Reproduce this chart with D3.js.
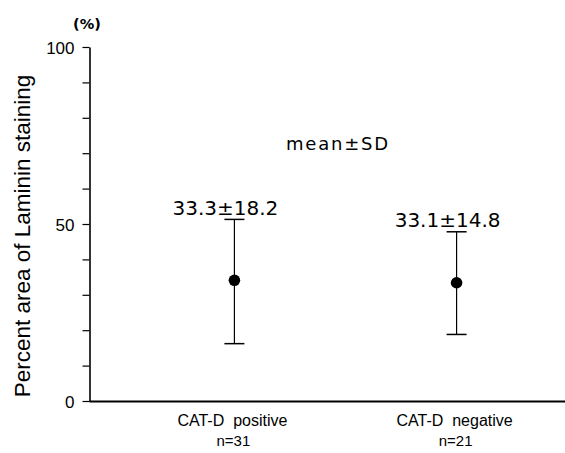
<!DOCTYPE html>
<html lang="en">
<head>
<meta charset="utf-8">
<title>Laminin staining</title>
<script src="https://d3js.org/d3.v7.min.js"></script>
<style>
body { margin: 0; background: #fff; }
svg text { fill: #000; }
.sans { font-family: "Liberation Sans", Arial, sans-serif; }
.dv { font-family: "DejaVu Sans", sans-serif; }
</style>
</head>
<body>
<div id="chart"></div>
<script>
// values
var categories = ["CAT-D  positive", "CAT-D  negative"];
var nLabels = ["n=31", "n=21"];
var means = [34.1, 33.4];
var upper = [51.3, 47.8];
var lower = [16.2, 18.8];
var valueLabels = ["33.3\u00b118.2", "33.1\u00b114.8"];
var yTicks = [0, 10, 20, 30, 40, 50, 60, 70, 80, 90, 100];
var yTickLabels = [0, 50, 100];

var width = 565, height = 453;

var svg = d3.select("#chart")
  .append("svg")
  .attr("width", width)
  .attr("height", height);

var y = d3.scaleLinear()
  .domain([0, 100])
  .range([401, 47]);

var x = d3.scalePoint()
  .domain(categories)
  .range([90, 601])
  .padding(0.65);

// y axis
var yAxis = svg.append("g")
  .attr("transform", "translate(89.5,0)")
  .call(d3.axisLeft(y)
    .tickValues(yTicks)
    .tickSize(7)
    .tickSizeOuter(0)
    .tickPadding(8)
    .tickFormat(function(d) { return yTickLabels.indexOf(d) >= 0 ? d : ""; }));
yAxis.select(".domain").attr("stroke-width", 1.6);
yAxis.selectAll(".tick line").attr("stroke-width", 1.2);
yAxis.selectAll(".tick text")
  .attr("class", "sans")
  .style("font-size", "17px")
  .attr("dy", "0.36em");

// x axis (just the baseline)
var xAxis = svg.append("g")
  .attr("transform", "translate(0," + y(0) + ")")
  .call(d3.axisBottom(d3.scaleLinear().range([89, 565]))
    .tickValues([])
    .tickSizeOuter(0));
xAxis.select(".domain").attr("stroke-width", 1.8);

// (%)
svg.append("text")
  .attr("class", "dv")
  .attr("x", 87)
  .attr("y", 29)
  .attr("text-anchor", "middle")
  .style("font-size", "14.5px")
  .style("font-weight", "bold")
  .text("(%)");

// y title
svg.append("text")
  .attr("class", "sans")
  .attr("transform", "translate(30," + 236 + ") rotate(-90)")
  .attr("text-anchor", "middle")
  .style("font-size", "22.5px")
  .text("Percent area of Laminin staining");

// mean±SD note
svg.append("text")
  .attr("class", "dv")
  .attr("x", 338)
  .attr("y", 150)
  .attr("text-anchor", "middle")
  .style("font-size", "18px")
  .style("letter-spacing", "1.8px")
  .text("mean\u00b1SD");

var groups = svg.selectAll(".grp")
  .data(categories)
  .enter()
  .append("g")
  .attr("class", "grp");

// error bars
groups.append("line")
  .attr("x1", function(d) { return x(d); })
  .attr("x2", function(d) { return x(d); })
  .attr("y1", function(d, i) { return y(upper[i]); })
  .attr("y2", function(d, i) { return y(lower[i]); })
  .attr("stroke", "#000")
  .attr("stroke-width", 1.2);

groups.append("line")
  .attr("x1", function(d) { return x(d) - 10; })
  .attr("x2", function(d) { return x(d) + 10; })
  .attr("y1", function(d, i) { return y(upper[i]); })
  .attr("y2", function(d, i) { return y(upper[i]); })
  .attr("stroke", "#000")
  .attr("stroke-width", 1.5);

groups.append("line")
  .attr("x1", function(d) { return x(d) - 10; })
  .attr("x2", function(d) { return x(d) + 10; })
  .attr("y1", function(d, i) { return y(lower[i]); })
  .attr("y2", function(d, i) { return y(lower[i]); })
  .attr("stroke", "#000")
  .attr("stroke-width", 1.5);

groups.append("circle")
  .attr("cx", function(d) { return x(d); })
  .attr("cy", function(d, i) { return y(means[i]); })
  .attr("r", 5.8)
  .attr("fill", "#000");

// mean ± SD labels
groups.append("text")
  .attr("class", "dv")
  .attr("x", function(d) { return x(d) - 9; })
  .attr("y", function(d, i) { return y(upper[i]) - 4.5; })
  .attr("text-anchor", "middle")
  .style("font-size", "20px")
  .text(function(d, i) { return valueLabels[i]; });

// category labels
groups.append("text")
  .attr("class", "sans")
  .attr("x", function(d) { return x(d) - 2; })
  .attr("y", 426)
  .attr("text-anchor", "middle")
  .style("font-size", "16px")
  .style("white-space", "pre")
  .text(function(d) { return d; });

groups.append("text")
  .attr("class", "sans")
  .attr("x", function(d) { return x(d) - 1; })
  .attr("y", 446)
  .attr("text-anchor", "middle")
  .style("font-size", "15px")
  .text(function(d, i) { return nLabels[i]; });
</script>
</body>
</html>
